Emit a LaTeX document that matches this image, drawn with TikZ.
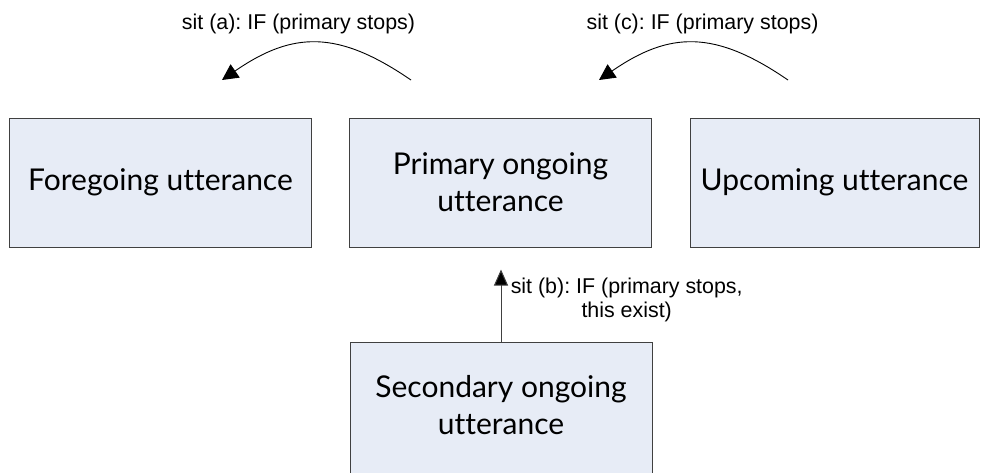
\documentclass[tikz,border=0pt]{standalone}
\usepackage{fontspec}
\setmainfont{Liberation Sans}
\newfontfamily\boxfont[Ligatures=NoCommon]{Lato}
\usetikzlibrary{arrows.meta}
\frenchspacing
\definecolor{boxfill}{RGB}{231,236,246}
\definecolor{boxline}{RGB}{64,64,64}
\begin{document}
\begin{tikzpicture}[x=1pt,y=-1pt,
  utter/.style={draw=boxline,line width=1pt,fill=boxfill,minimum width=302pt,
    minimum height=129pt,inner sep=0pt,font=\boxfont\fontsize{30}{37}\selectfont,
    align=center},
  blank/.style={draw=boxline,line width=1pt,fill=boxfill,minimum width=302pt,
    minimum height=138pt,inner sep=0pt},
  boxtext/.style={inner sep=0pt,font=\boxfont\fontsize{30}{37}\selectfont,align=center},
  cond/.style={inner sep=0pt,font=\fontsize{21.4}{24.5}\selectfont,align=center},
  hop/.style={line width=0.9pt,-{Triangle[length=16pt,width=16pt]}},
  lift/.style={line width=1pt,draw=boxline,-{Triangle[length=16pt,width=14pt,fill=black]}}]
\useasboundingbox (0,0) rectangle (982,472);

% upper row of utterances
\node[utter] (fore) at (160.5,182.5) {Foregoing utterance};
\node[utter] (prim) at (500.5,182.5) {Primary ongoing\\utterance};
\node[utter, minimum width=289pt] (upc) at (834.5,182.5) {Upcoming utterance};

% secondary utterance, running past the lower edge
\node[blank] (sec) at (501,411) {};
\node[boxtext] (sectext) at (501,405.5) {Secondary ongoing\\utterance};

% curved transitions above the row
\coordinate (a1) at (411,80);
\coordinate (a2) at (222,80);
\coordinate (c1) at (788,80);
\coordinate (c2) at (599,80);
\draw[hop] (a1) .. controls (338,30) and (293,31) .. (a2);
\draw[hop] (c1) .. controls (715,30) and (670,31) .. (c2);
\node[cond, anchor=base] (la) at (298.5,29.5) {sit (a): IF (primary stops)};
\node[cond, anchor=base] (lc) at (702.5,29.5) {sit (c): IF (primary stops)};

% secondary feeding the primary
\coordinate (btip) at (501,269.5);
\draw[lift] (sec.north) -- (btip);
\node[cond] (lb) at (626.7,300) {sit (b): IF (primary stops,\\this exist)};
\end{tikzpicture}
\end{document}
